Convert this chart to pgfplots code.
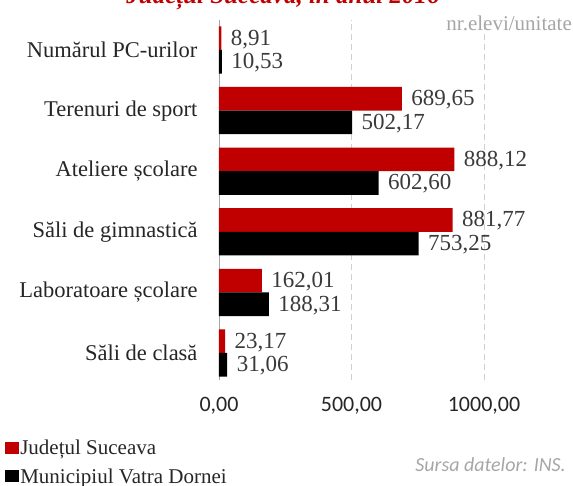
\documentclass[border=0pt]{standalone}
\usepackage{fontspec}
\setmainfont{Liberation Serif}
\newfontfamily\carlito{Carlito}
\usepackage{pgfplots}
\pgfplotsset{compat=1.18}
\definecolor{myred}{HTML}{C00000}
\definecolor{txt}{HTML}{262626}
\definecolor{valtxt}{HTML}{3A3A3A}
\definecolor{lightg}{HTML}{A6A6A6}
\definecolor{gridg}{HTML}{D0D0D0}
\begin{document}
\begin{tikzpicture}
\begin{axis}[
  anchor=origin, at={(219pt,133pt)},
  x=0.265pt, y=60.6pt,
  xbar, bar width=0.39,
  xmin=0, xmax=1280, ymin=-0.45, ymax=5.5,
  axis line style={draw=none},
  major tick length=0pt,
  xtick={500,1000},
  extra x ticks={0},
  extra x tick style={grid style={solid, draw=lightg, line width=0.6pt, dash pattern=}},
  xmajorgrids,
  grid style={draw=gridg, line width=0.8pt, dash pattern=on 6pt off 4pt},
  /pgf/number format/.cd, fixed, fixed zerofill, precision=2, use comma, 1000 sep={}, assume math mode=true,
  /pgfplots/.cd,
  ytick={0,1,2,3,4,5},
  yticklabels={Săli de clasă, Laboratoare școlare, Săli de gimnastică, Ateliere școlare, Terenuri de sport, Numărul PC-urilor},
  yticklabel style={font=\fontsize{22.5}{26}\selectfont, text=txt, xshift=-18pt},
  xticklabel style={font=\carlito\fontsize{22}{26}\selectfont, text=txt, yshift=-13pt},
  point meta=x,
  nodes near coords,
  nodes near coords style={font=\fontsize{23}{25}\selectfont, text=valtxt, anchor=west, xshift=6pt, yshift=-1pt},
  legend style={at={(-0.632,-0.162)}, anchor=north west, draw=none, fill=none,
    font=\fontsize{21}{24}\selectfont, text=txt, row sep=9pt, inner sep=0pt,
    nodes={inner sep=1.5pt}},
  legend cell align=left,
  legend image code/.code={\fill[#1, draw=none] (0pt,-6pt) rectangle (14pt,6pt);},
]
\addplot[bar shift=0.195, fill=myred, draw=none]
  coordinates {(23.17,0) (162.01,1) (881.77,2) (888.12,3) (689.65,4) (8.91,5)};
\addplot[bar shift=-0.195, fill=black, draw=none]
  coordinates {(31.06,0) (188.31,1) (753.25,2) (602.60,3) (502.17,4) (10.53,5)};
\legend{Județul Suceava, Municipiul Vatra Dornei}
\end{axis}
\node[anchor=base, text=myred, font=\bfseries\itshape\fontsize{25}{28}\selectfont, inner sep=0pt] at (283pt,482pt) {Județul Suceava, în anul 2016};
\node[anchor=east, text=lightg, font=\fontsize{21}{24}\selectfont, inner sep=0pt] at (572pt,463pt) {nr.elevi/unitate};
\node[anchor=east, text=lightg, font=\carlito\itshape\fontsize{20}{24}\selectfont, inner sep=0pt] at (566pt,21pt) {Sursa datelor: INS.};
\pgfresetboundingbox
\useasboundingbox (0,0) rectangle (573pt,486pt);
\end{tikzpicture}
\end{document}
